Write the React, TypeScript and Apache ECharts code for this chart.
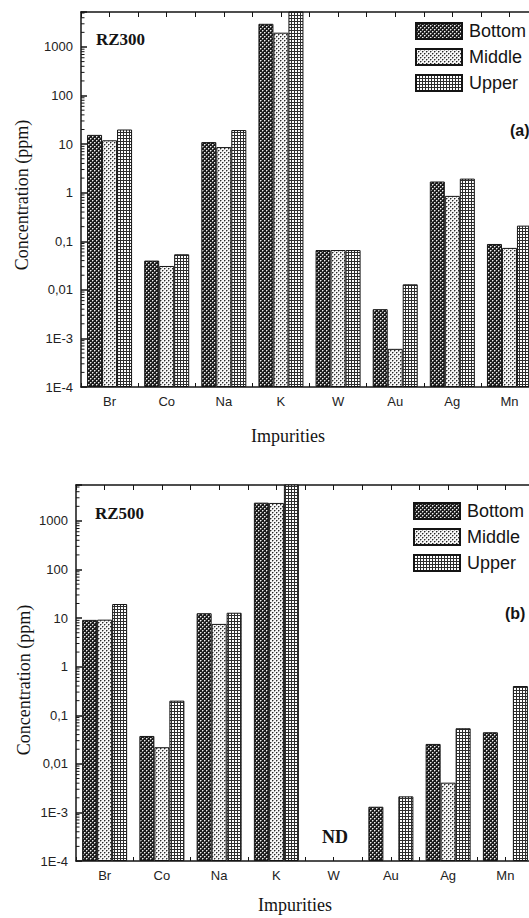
import React, { useEffect, useRef } from "react";
import * as echarts from "echarts";

const categories = ["Br", "Co", "Na", "K", "W", "Au", "Ag", "Mn"];
const seriesNames = ["Bottom", "Middle", "Upper"];

// Panel (a) RZ300
const rz300Bottom = [15.5, 0.04, 11, 3000, 0.066, 0.004, 1.7, 0.088];
const rz300Middle = [12, 0.031, 8.7, 1970, 0.066, 0.00061, 0.86, 0.073];
const rz300Upper = [20, 0.054, 19.5, 9000, 0.066, 0.013, 1.95, 0.21];

// Panel (b) RZ500
const rz500Bottom = [9.2, 0.0375, 12.6, 2380, null, 0.00131, 0.0257, 0.0447];
const rz500Middle = [9.3, 0.022, 7.6, 2350, null, null, 0.0041, null];
const rz500Upper = [19.5, 0.2, 12.9, 9000, null, 0.00214, 0.054, 0.4];

const yTickLabels = ["1E-4", "1E-3", "0,01", "0,1", "1", "10", "100", "1000"];
const decades = [1e-4, 1e-3, 0.01, 0.1, 1, 10, 100, 1000];
const minorMultipliers = [2, 3, 4, 5, 6, 7, 8, 9];

const SANS = "'Liberation Sans', Arial, sans-serif";
const SERIF = "'Liberation Serif', 'Times New Roman', serif";
const INK = "#141414";

function makePattern(size: number, bg: string, px: [number, number, string][]) {
  const c = document.createElement("canvas");
  c.width = size;
  c.height = size;
  const ctx = c.getContext("2d")!;
  ctx.fillStyle = bg;
  ctx.fillRect(0, 0, size, size);
  for (const [x, y, col] of px) {
    ctx.fillStyle = col;
    ctx.fillRect(x, y, 1, 1);
  }
  return c;
}

export default function App() {
  const ref = useRef<HTMLDivElement>(null);
  useEffect(() => {
    if (!ref.current) return;
    const chart = echarts.init(ref.current, undefined, { renderer: "svg" });

    const pBottom = makePattern(4, "#1c1c1c", [
      [0, 0, "#f2f2f2"], [2, 2, "#f2f2f2"],
      [1, 0, "#808080"], [0, 1, "#808080"], [3, 2, "#808080"], [2, 3, "#808080"],
    ]);
    const pMiddle = makePattern(4, "#f6f6f6", [
      [0, 0, "#2a2a2a"], [2, 2, "#2a2a2a"],
      [1, 0, "#a0a0a0"], [0, 1, "#a0a0a0"], [3, 2, "#a0a0a0"], [2, 3, "#a0a0a0"],
    ]);
    const upperPx: [number, number, string][] = [
      [0, 0, "#2e2e2e"], [1, 0, "#2e2e2e"], [2, 0, "#2e2e2e"], [0, 1, "#2e2e2e"], [0, 2, "#2e2e2e"],
    ];
    const pUpper = makePattern(3, "#ffffff", upperPx);
    const patterns = [pBottom, pMiddle, pUpper];

    const panels = [
      { grid: { left: 81, top: 12, width: 457, height: 375 }, max: 5250, data: [rz300Bottom, rz300Middle, rz300Upper] },
      { grid: { left: 76, top: 485, width: 458, height: 376 }, max: 5500, data: [rz500Bottom, rz500Middle, rz500Upper] },
    ];

    const minorVals: number[] = [];
    decades.forEach((d) => minorMultipliers.forEach((m) => minorVals.push(d * m)));

    const yFormatter = (v: number) => {
      const l = Math.log10(v);
      const e = Math.round(l);
      if (Math.abs(l - e) > 0.01) return "";
      return yTickLabels[e + 4] ?? "";
    };

    const xAxis: any[] = [];
    const yAxis: any[] = [];
    const series: any[] = [];
    panels.forEach((p, gi) => {
      xAxis.push({
        type: "value", gridIndex: gi, position: "bottom", min: 0, max: 8, interval: 0.5,
        axisLine: { show: true, lineStyle: { color: INK, width: 1.5 } },
        axisTick: { show: true, inside: true, length: 4, lineStyle: { color: INK, width: 1 } },
        splitLine: { show: false },
        axisLabel: {
          show: true, margin: 8, fontSize: 13, fontFamily: SANS, color: "#222",
          formatter: (v: number) => {
            const i = v - 0.5;
            return Math.abs(i - Math.round(i)) < 1e-6 ? categories[Math.round(i)] ?? "" : "";
          },
        },
      });
      xAxis.push({
        type: "value", gridIndex: gi, position: "top", min: 0, max: 8, interval: 0.5,
        axisLine: { show: true, lineStyle: { color: INK, width: 1.5 } },
        axisTick: { show: true, inside: true, length: 5, lineStyle: { color: INK, width: 1 } },
        splitLine: { show: false },
        axisLabel: { show: false },
      });
      yAxis.push({
        type: "log", gridIndex: gi, logBase: 10, min: 1e-4, max: p.max, splitNumber: 10,
        startValue: 1e-4,
        axisLine: { show: true, lineStyle: { color: INK, width: 1.5 } },
        axisTick: { show: true, inside: true, length: 6, lineStyle: { color: INK, width: 1.5 } },
        splitLine: { show: false },
        axisLabel: { margin: 8, fontSize: 13, fontFamily: SANS, color: "#222", formatter: yFormatter },
      });
      p.data.forEach((vals, si) => {
        series.push({
          type: "bar", name: seriesNames[si], xAxisIndex: gi * 2, yAxisIndex: gi,
          barWidth: 15, barGap: "0%",
          data: vals.map((v, i) => [i + 0.5, v]),
          itemStyle: { color: { image: patterns[si], repeat: "repeat" }, borderColor: INK, borderWidth: 1 },
        });
      });
      series.push({
        type: "custom", xAxisIndex: gi * 2, yAxisIndex: gi, silent: true, z: 5,
        data: minorVals.filter((v) => v < p.max).map((v) => [0, v]),
        renderItem: (_params: any, api: any) => {
          const pt = api.coord([0, api.value(1)]);
          return {
            type: "line",
            shape: { x1: pt[0], y1: pt[1], x2: pt[0] + 3.5, y2: pt[1] },
            style: { stroke: INK, lineWidth: 1 },
          };
        },
      });
    });

    const legendCommon = {
      orient: "vertical", icon: "rect", itemWidth: 46, itemHeight: 16, itemGap: 8, padding: 0,
      data: seriesNames, selectedMode: false,
      textStyle: { fontSize: 18, fontFamily: SANS, color: INK, padding: [0, 0, 0, 2] },
    };

    chart.setOption({
      animation: false,
      backgroundColor: "#ffffff",
      grid: panels.map((p) => ({ ...p.grid, containLabel: false, outerBoundsMode: "none" })),
      xAxis, yAxis, series,
      legend: [
        { ...legendCommon, left: 415, top: 22 },
        { ...legendCommon, left: 413, top: 502 },
      ],
      graphic: [
        { type: "text", x: 96, y: 39, style: { text: "RZ300", font: `bold 17px ${SERIF}`, fill: INK, verticalAlign: "middle", align: "left" } },
        { type: "text", x: 95, y: 513, style: { text: "RZ500", font: `bold 17px ${SERIF}`, fill: INK, verticalAlign: "middle", align: "left" } },
        { type: "text", x: 510, y: 130, style: { text: "(a)", font: `bold 16px ${SANS}`, fill: INK, verticalAlign: "middle", align: "left" } },
        { type: "text", x: 505, y: 613, style: { text: "(b)", font: `bold 16px ${SANS}`, fill: INK, verticalAlign: "middle", align: "left" } },
        { type: "text", x: 335, y: 837, style: { text: "ND", font: `bold 18px ${SERIF}`, fill: INK, verticalAlign: "middle", align: "center" } },
        { type: "text", x: 22, y: 195, rotation: Math.PI / 2, style: { text: "Concentration (ppm)", font: `18px ${SERIF}`, fill: INK, verticalAlign: "middle", align: "center" } },
        { type: "text", x: 24, y: 680, rotation: Math.PI / 2, style: { text: "Concentration (ppm)", font: `18px ${SERIF}`, fill: INK, verticalAlign: "middle", align: "center" } },
        { type: "text", x: 288, y: 436, style: { text: "Impurities", font: `18px ${SERIF}`, fill: INK, verticalAlign: "middle", align: "center" } },
        { type: "text", x: 295, y: 905, style: { text: "Impurities", font: `18px ${SERIF}`, fill: INK, verticalAlign: "middle", align: "center" } },
      ],
    });
    return () => chart.dispose();
  }, []);
  return (
    <div
      ref={ref}
      style={{ position: "absolute", left: 0, top: 0, width: 529, height: 918, background: "#fff" }}
    />
  );
}
